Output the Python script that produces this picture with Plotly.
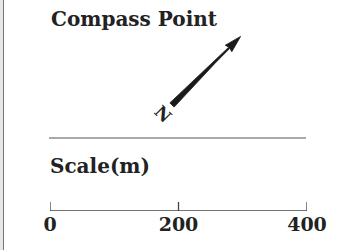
import math
import plotly.graph_objects as go

# ---- data ----
title_text = "Compass Point"
north_label = "N"
compass_angle_deg = 45          # direction of the compass needle (deg from east, CCW)
scale_title = "Scale(m)"
scale_ticks = [0, 200, 400]
scale_tick_labels = ["0", "200", "400"]
scale_max = 400

W, H = 342, 250
FONT = "DejaVu Serif"
TXT = "#222222"
BAR = "#444444"

fig = go.Figure()

# compass needle geometry (pixel-like units on an unscaled helper axis)
tail = (172, H - 105)
a = math.radians(compass_angle_deg)
u = (math.cos(a), math.sin(a))
n = (-math.sin(a), math.cos(a))
profile = [(0, 3.0), (60, 0.9), (81, 0.8), (80, 4.6), (97, 0.0)]
pts_s = [p[0] for p in profile] + [p[0] for p in reversed(profile[:-1])]
pts_t = [p[1] for p in profile] + [-p[1] for p in reversed(profile[:-1])]
px = [tail[0] + s * u[0] + t * n[0] for s, t in zip(pts_s, pts_t)]
py = [tail[1] + s * u[1] + t * n[1] for s, t in zip(pts_s, pts_t)]
px.append(px[0]); py.append(py[0])
fig.add_trace(go.Scatter(x=px, y=py, mode="lines", fill="toself",
                         fillcolor="#1a1a1a", line=dict(color="#1a1a1a", width=0.8),
                         hoverinfo="skip", showlegend=False, xaxis="x", yaxis="y"))

# N label at the tail
ns = -13
fig.add_annotation(x=tail[0] + ns * u[0], y=tail[1] + ns * u[1], xref="x", yref="y",
                   text=f"<b>{north_label}</b>", showarrow=False,
                   textangle=90 - compass_angle_deg,
                   font=dict(family=FONT, size=17, color=TXT))

# scale bar: baseline plus a tick at each scale value
bx, by = [0, scale_max, None], [0, 0, None]
for t in scale_ticks:
    bx += [t, t, None]
    by += [0, 1, None]
fig.add_trace(go.Scatter(x=bx, y=by, mode="lines", line=dict(color=BAR, width=1.3),
                         cliponaxis=False, hoverinfo="skip", showlegend=False,
                         xaxis="x2", yaxis="y2"))

fig.update_layout(
    width=W, height=H, autosize=False, margin=dict(l=0, r=0, t=0, b=0, pad=0),
    paper_bgcolor="white", plot_bgcolor="rgba(0,0,0,0)",
    xaxis=dict(domain=[0, 1], range=[0, W], visible=False, fixedrange=True, automargin=False),
    yaxis=dict(domain=[0, 1], range=[0, H], visible=False, fixedrange=True, automargin=False),
    xaxis2=dict(domain=[50 / W, 307 / W], range=[0, scale_max], anchor="y2",
                showline=False, ticks="",
                tickvals=scale_ticks, ticktext=[f"<b>{t}</b>" for t in scale_tick_labels],
                tickfont=dict(family=FONT, size=19, color=TXT),
                showgrid=False, zeroline=False, fixedrange=True, automargin=False),
    yaxis2=dict(domain=[(H - 211) / H, (H - 202) / H], range=[0, 1], anchor="x2",
                visible=False, fixedrange=True, automargin=False),
    showlegend=False,
)

# title texts
fig.add_annotation(x=49 / W, y=1 - 19 / H, xref="paper", yref="paper", xanchor="left",
                   yanchor="middle", text=f"<b>{title_text}</b>", showarrow=False,
                   font=dict(family=FONT, size=20, color=TXT))
fig.add_annotation(x=48 / W, y=1 - 166 / H, xref="paper", yref="paper", xanchor="left",
                   yanchor="middle", text=f"<b>{scale_title}</b>", showarrow=False,
                   font=dict(family=FONT, size=20, color=TXT))

# separator line and left border
fig.add_shape(type="line", xref="paper", yref="paper", x0=49 / W, x1=306 / W,
              y0=1 - 138 / H, y1=1 - 138 / H, line=dict(color="#555555", width=1.2))
fig.add_shape(type="rect", xref="paper", yref="paper", x0=0, x1=3 / W, y0=0, y1=1,
              fillcolor="#e6e6e6", line=dict(width=0))
fig.add_shape(type="line", xref="paper", yref="paper", x0=3.5 / W, x1=3.5 / W, y0=0, y1=1,
              line=dict(color="#777777", width=1))

fig.write_html("out.html", config={"responsive": False, "displayModeBar": False},
               post_script="document.body.style.margin='0';"
                           "document.body.style.overflow='hidden';")
